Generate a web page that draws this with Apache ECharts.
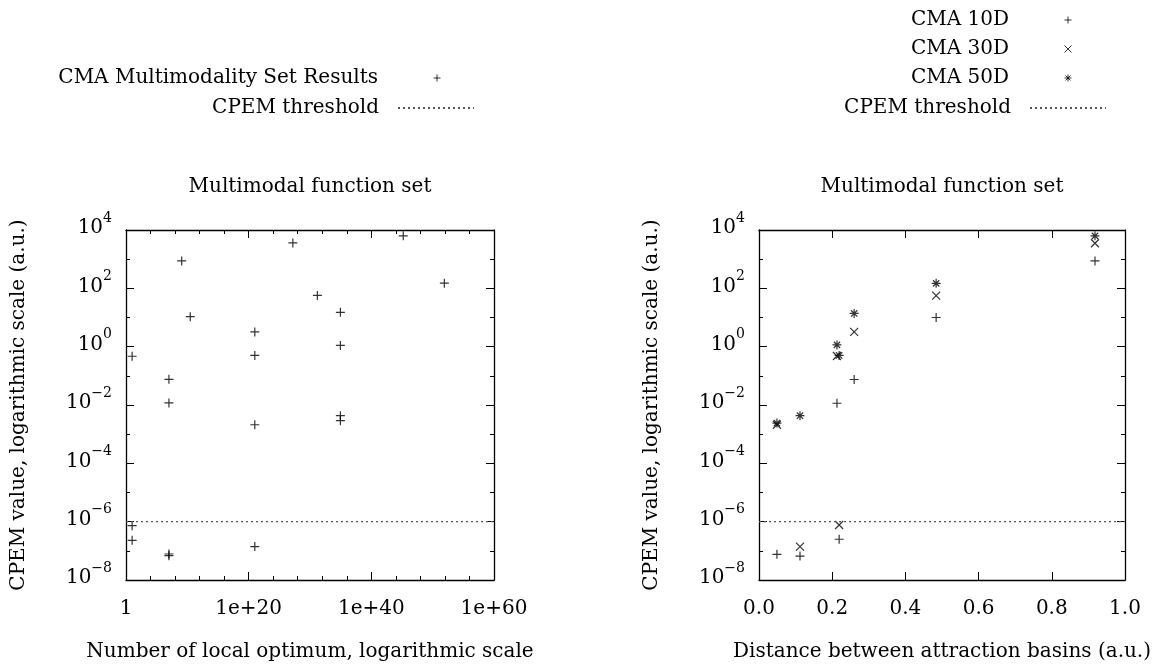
<!DOCTYPE html>
<html>
<head>
<meta charset="utf-8">
<title>CPEM - multimodal function set</title>
<script src="https://cdn.jsdelivr.net/npm/echarts@6/dist/echarts.min.js"></script>
<style>
  html, body { margin: 0; padding: 0; background: #fff; }
  #chart { width: 1173px; height: 668px; }
</style>
</head>
<body>
<div id="chart"></div>
<script>
// left plot: number of local optima vs CPEM value
var optimaCount = [1e1, 1e1, 1e1, 1e7, 1e7, 1e7, 1e7, 1.2e9, 3e10, 1e21, 1e21, 1e21, 1e21,
                   1.6e27, 1.6e31, 9e34, 9e34, 9e34, 9e34, 1.6e45, 8e51];
var optimaCpem = [0.47, 7.3e-7, 2.3e-7, 0.076, 0.0118, 7.8e-8, 6.8e-8, 870, 10.7, 3.2, 0.5, 0.0021, 1.4e-7,
                  3600, 57, 15, 1.1, 0.0043, 0.0029, 6300, 150];

// right plot: distance between attraction basins vs CPEM value
var basinDistance = [0.049, 0.112, 0.213, 0.219, 0.26, 0.484, 0.918];
var cpem10D = [7.6e-8, 6.6e-8, 0.0115, 2.5e-7, 0.075, 10, 870];
var cpem30D = [0.0021, 1.4e-7, 0.48, 7.7e-7, 3.2, 56, 3500];
var cpem50D = [0.0024, 0.0043, 1.15, 0.5, 13.8, 148, 6300];

var cpemThreshold = 1e-6;

// axes work on powers of ten
var yExp = [-8, 4];          // 10^-8 .. 10^4
var optimaExp = [0, 60];     // 1 .. 1e+60
var distRange = [0, 1];

var FONT = 'DejaVu Serif';
var plusPath = 'path://M0,5L10,5M5,0L5,10';
var crossPath = 'path://M0,0L10,10M0,10L10,0';
var starPath = 'path://M0,5L10,5M5,0L5,10M1.5,1.5L8.5,8.5M1.5,8.5L8.5,1.5';

function lg(v) { return Math.log10(v); }
function pairs(xs, ys, fx) {
	return xs.map(function (x, i) { return [fx ? fx(x) : x, lg(ys[i])]; });
}

var txt = { fontFamily: FONT, fontSize: 20, color: '#000' };
var frame = { show: true, onZero: false, lineStyle: { color: '#000', width: 1.3 } };

function cpemAxis(grid, pos, main) {
	return {
		type: 'value', gridIndex: grid, position: pos,
		min: yExp[0], max: yExp[1], interval: 2,
		name: main ? 'CPEM value, logarithmic scale (a.u.)' : '',
		nameLocation: 'middle', nameGap: 97, nameTextStyle: txt,
		axisLine: frame,
		axisTick: { show: true, inside: true, length: 8, lineStyle: { color: '#000' } },
		minorTick: { show: true, splitNumber: 2, length: 4, lineStyle: { color: '#000' } },
		axisLabel: {
			show: main, margin: 14, color: '#000',
			formatter: function (v) {
				var e = Math.round(v);
				return '{b|10}{s|' + (e < 0 ? '\u2212' + (-e) : e) + '}';
			},
			rich: {
				b: { fontFamily: FONT, fontSize: 20, color: '#000', padding: [0, 0, 4, 0] },
				s: { fontFamily: FONT, fontSize: 14, color: '#000', padding: [0, 0, 24, 0] }
			}
		},
		splitLine: { show: false }
	};
}

function bottomAxis(grid, range, interval, minor, name, fmt) {
	return {
		type: 'value', gridIndex: grid, position: 'bottom',
		min: range[0], max: range[1], interval: interval,
		name: name, nameLocation: 'middle', nameGap: 62, nameTextStyle: txt,
		axisLine: frame,
		axisTick: { show: true, inside: true, length: 8, lineStyle: { color: '#000' } },
		minorTick: { show: minor > 0, splitNumber: minor, length: 4, lineStyle: { color: '#000' } },
		axisLabel: { show: true, margin: 19, fontFamily: FONT, fontSize: 20, color: '#000', formatter: fmt },
		splitLine: { show: false }
	};
}

function topAxis(grid, range, interval, minor) {
	return {
		type: 'value', gridIndex: grid, position: 'top',
		min: range[0], max: range[1], interval: interval,
		name: 'Multimodal function set', nameLocation: 'middle', nameGap: 33, nameTextStyle: txt,
		axisLine: frame,
		axisTick: { show: true, inside: true, length: 8, lineStyle: { color: '#000' } },
		minorTick: { show: minor > 0, splitNumber: minor, length: 4, lineStyle: { color: '#000' } },
		axisLabel: { show: false },
		splitLine: { show: false }
	};
}

var markStyle = { color: 'transparent', borderColor: '#000', borderWidth: 1.2 };
var dotted = { color: '#555', width: 1.2, type: [2, 3] };

// one legend per entry so the text ends and the icons line up on the right
function markLegend(name, right, top) {
	return {
		orient: 'vertical', align: 'right', right: right, top: top, padding: 0,
		itemWidth: 8, itemHeight: 7, selectedMode: false, data: [name],
		textStyle: { fontFamily: FONT, fontSize: 20, color: '#000', padding: [0, 50, 0, 0] },
		itemStyle: { borderColor: '#000', borderWidth: 1 }
	};
}
function lineLegend(right, top) {
	return {
		orient: 'vertical', align: 'right', right: right, top: top, padding: 0,
		itemWidth: 76, itemHeight: 7, selectedMode: false, data: ['CPEM threshold'],
		textStyle: { fontFamily: FONT, fontSize: 20, color: '#000', padding: [0, 14, 0, 0] },
		itemStyle: { color: 'transparent', borderWidth: 0 }
	};
}

var chart = echarts.init(document.getElementById('chart'));

var option = {
	backgroundColor: '#fff',
	animation: false,
	legend: [
		markLegend('CMA Multimodality Set Results', 732, 68),
		lineLegend(698, 98),
		markLegend('CMA 10D', 101, 10),
		markLegend('CMA 30D', 101, 39),
		markLegend('CMA 50D', 101, 68),
		lineLegend(66, 98)
	],
	grid: [
		{ left: 126, top: 230, width: 368, height: 350 },
		{ left: 759, top: 230, width: 366, height: 350 }
	],
	xAxis: [
		bottomAxis(0, optimaExp, 20, 5, 'Number of local optimum, logarithmic scale', function (v) {
			return v === 0 ? '1' : '1e+' + Math.round(v);
		}),
		topAxis(0, optimaExp, 20, 5),
		bottomAxis(1, distRange, 0.2, 0, 'Distance between attraction basins (a.u.)', function (v) {
			return v.toFixed(1);
		}),
		topAxis(1, distRange, 0.2, 0)
	],
	yAxis: [
		cpemAxis(0, 'left', true),
		cpemAxis(0, 'right', false),
		cpemAxis(1, 'left', true),
		cpemAxis(1, 'right', false)
	],
	series: [
		{
			name: 'CMA Multimodality Set Results', type: 'scatter', xAxisIndex: 0, yAxisIndex: 0,
			symbol: plusPath, symbolSize: 9, itemStyle: markStyle,
			data: pairs(optimaCount, optimaCpem, lg)
		},
		{
			name: 'CPEM threshold', type: 'line', xAxisIndex: 0, yAxisIndex: 0,
			symbol: 'none', silent: true, lineStyle: dotted,
			data: [[optimaExp[0], lg(cpemThreshold)], [optimaExp[1], lg(cpemThreshold)]]
		},
		{
			name: 'CMA 10D', type: 'scatter', xAxisIndex: 2, yAxisIndex: 2,
			symbol: plusPath, symbolSize: 9, itemStyle: markStyle,
			data: pairs(basinDistance, cpem10D)
		},
		{
			name: 'CMA 30D', type: 'scatter', xAxisIndex: 2, yAxisIndex: 2,
			symbol: crossPath, symbolSize: 8, itemStyle: markStyle,
			data: pairs(basinDistance, cpem30D)
		},
		{
			name: 'CMA 50D', type: 'scatter', xAxisIndex: 2, yAxisIndex: 2,
			symbol: starPath, symbolSize: 9, itemStyle: markStyle,
			data: pairs(basinDistance, cpem50D)
		},
		{
			name: 'CPEM threshold', type: 'line', xAxisIndex: 2, yAxisIndex: 2,
			symbol: 'none', silent: true, lineStyle: dotted,
			data: [[distRange[0], lg(cpemThreshold)], [distRange[1], lg(cpemThreshold)]]
		}
	]
};

chart.setOption(option);
window.addEventListener('resize', function () {
	chart.resize();
});
</script>
</body>
</html>
